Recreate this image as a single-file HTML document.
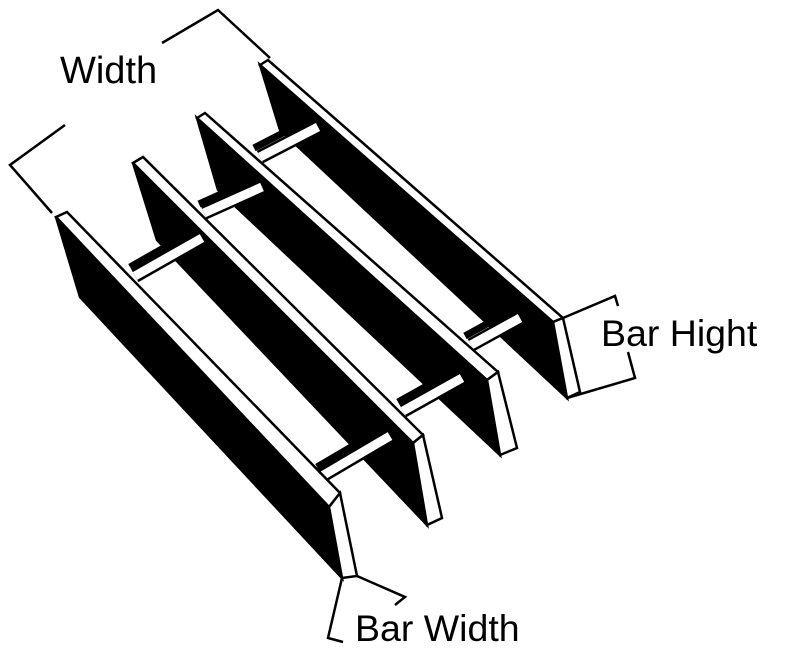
<!DOCTYPE html>
<html><head><meta charset="utf-8"><style>
html,body{margin:0;padding:0;background:#fff;width:800px;height:660px;overflow:hidden}
svg{display:block}
text{font-family:"Liberation Sans",sans-serif;fill:#000}
</style></head><body>
<svg width="800" height="660" viewBox="0 0 800 660" xmlns="http://www.w3.org/2000/svg">
<g stroke="#000" stroke-width="2.5" stroke-linejoin="miter" fill="none">
<!-- Bar 4 -->
<polygon points="260,65 553,322 567,398 280,130" fill="#000"/>
<line x1="254" y1="148" x2="312" y2="118" stroke-width="7"/>
<line x1="260" y1="157" x2="318" y2="127" stroke-width="14"/>
<line x1="260" y1="157" x2="318" y2="127" stroke="#fff" stroke-width="9"/>
<line x1="465" y1="336" x2="514" y2="309" stroke-width="7"/>
<line x1="471" y1="345" x2="520" y2="318" stroke-width="14"/>
<line x1="471" y1="345" x2="520" y2="318" stroke="#fff" stroke-width="9"/>
<polygon points="260,65 268,60 563,318 553,322" fill="#fff"/>
<polygon points="553,322 563,318 580,392 567,398" fill="#fff"/>
<!-- Bar 3 -->
<polygon points="197,118 487,380 500,455 218,190" fill="#000"/>
<line x1="199" y1="204" x2="257" y2="178" stroke-width="7"/>
<line x1="204" y1="213" x2="262" y2="187" stroke-width="14"/>
<line x1="204" y1="213" x2="262" y2="187" stroke="#fff" stroke-width="9"/>
<line x1="398" y1="402" x2="457" y2="369" stroke-width="7"/>
<line x1="403" y1="411" x2="462" y2="378" stroke-width="14"/>
<line x1="403" y1="411" x2="462" y2="378" stroke="#fff" stroke-width="9"/>
<polygon points="197,118 205,113 498,372 487,380" fill="#fff"/>
<polygon points="487,380 498,372 517,448 500,455" fill="#fff"/>
<!-- Bar 2 -->
<polygon points="133,163 413,443 427,525 157,240" fill="#000"/>
<line x1="130" y1="267" x2="197" y2="229" stroke-width="7"/>
<line x1="135" y1="276" x2="202" y2="238" stroke-width="14"/>
<line x1="135" y1="276" x2="202" y2="238" stroke="#fff" stroke-width="9"/>
<line x1="317" y1="467" x2="385" y2="427" stroke-width="7"/>
<line x1="322" y1="476" x2="390" y2="436" stroke-width="14"/>
<line x1="322" y1="476" x2="390" y2="436" stroke="#fff" stroke-width="9"/>
<polygon points="133,163 143,157 423,435 413,443" fill="#fff"/>
<polygon points="413,443 423,435 442,518 427,525" fill="#fff"/>
<!-- Bar 1 -->
<polygon points="56,217 329,507 342,578 80,297" fill="#000"/>
<polygon points="56,217 67,212 340,493 329,507" fill="#fff"/>
<polygon points="329,507 340,493 357,576 342,578" fill="#fff"/>
<!-- brackets -->
<polyline points="52,213 10,165 65,125"/>
<polyline points="162,43 218,10 270,58"/>
<polyline points="563,318 615,296 618,306"/>
<polyline points="628,352 635,378 567,398"/>
<polyline points="342,578 328,638 343,642"/>
<polyline points="357,576 405,597 395,605"/>
</g>
<text x="60" y="83" font-size="38">Width</text>
<text x="601" y="346" font-size="37.5">Bar Hight</text>
<text x="355" y="641" font-size="37.5">Bar Width</text>
</svg>
</body></html>
